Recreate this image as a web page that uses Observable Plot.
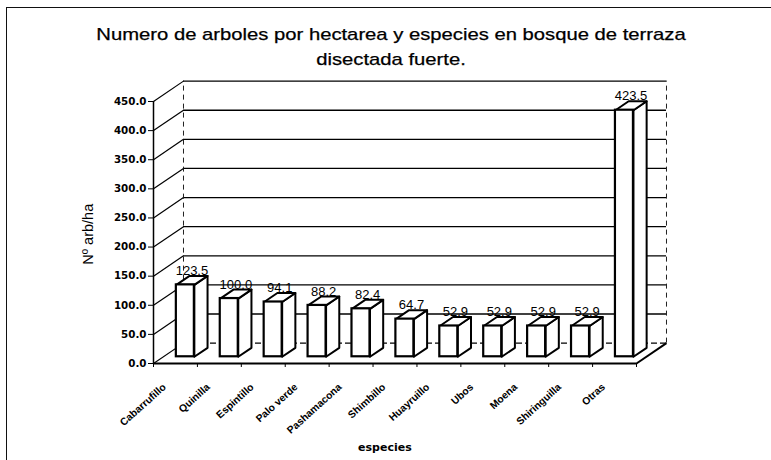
<!DOCTYPE html>
<html lang="es">
<head>
<meta charset="utf-8">
<script src="https://cdn.jsdelivr.net/npm/d3@7"></script>
<script src="https://cdn.jsdelivr.net/npm/@observablehq/plot@0.6"></script>
<style>
html,body{margin:0;padding:0;background:#fff;width:771px;height:460px;overflow:hidden}
#page{position:relative;width:771px;height:460px;box-sizing:border-box;font-family:"Liberation Sans",Arial,sans-serif}
#frame{position:absolute;left:6px;top:7px;right:0;bottom:0;border-left:1.5px solid #111;border-top:1.5px solid #111;pointer-events:none}
#title{position:absolute;left:0;top:22px;width:782px;text-align:center;font-size:17px;line-height:25px;color:#000;-webkit-text-stroke:.25px #000;transform:scaleX(1.19);transform-origin:391px 0}
#chart{position:absolute;left:0;top:70px}
svg{display:block;overflow:visible}
</style>
</head>
<body>
<div id="page">
<div id="frame"></div>
<div id="title">Numero de arboles por hectarea y especies en bosque de terraza<br>disectada fuerte.</div>
<div id="chart"></div>
</div>
<script>
const species = ["Cabarrufillo","Quinilla","Espintillo","Palo verde","Pashamacona","Shimbillo","Huayruillo","Ubos","Moena","Shiringuilla","Otras"];
const treesPerHa = [123.5,100.0,94.1,88.2,82.4,64.7,52.9,52.9,52.9,52.9,423.5];
const yTicks = [0,50,100,150,200,250,300,350,400,450];

// Oblique projection of the 3D chart, in scale units
const depthX = 0.683, depthY = 35;
const barStart = 0.33, barEnd = 0.77, halfBar = 0.205;

const bars = species.map((name,i)=>{
  const cx = i + 0.5, v = treesPerHa[i];
  const fx = cx + barStart*depthX, fy = barStart*depthY;
  const bx = (barEnd-barStart)*depthX, by = (barEnd-barStart)*depthY;
  return {name,i,v,x1:fx-halfBar,x2:fx+halfBar,y1:fy,y2:fy+v,bx,by};
});
const sideFaces = bars.flatMap(b=>[
  {k:b.i,x:b.x2,y:b.y1},{k:b.i,x:b.x2+b.bx,y:b.y1+b.by},{k:b.i,x:b.x2+b.bx,y:b.y2+b.by},{k:b.i,x:b.x2,y:b.y2},{k:b.i,x:b.x2,y:b.y1}
]);
const topFaces = bars.flatMap(b=>[
  {k:b.i,x:b.x1,y:b.y2},{k:b.i,x:b.x2,y:b.y2},{k:b.i,x:b.x2+b.bx,y:b.y2+b.by},{k:b.i,x:b.x1+b.bx,y:b.y2+b.by},{k:b.i,x:b.x1,y:b.y2}
]);
const catTicks = species.map((_,i)=>i+0.5);
const edgeTicks = d3.range(species.length+1);

const plot = Plot.plot({
  width:771, height:390,
  marginLeft:153, marginRight:135, marginTop:31, marginBottom:97,
  style:{background:"transparent",fontFamily:"'Liberation Sans',Arial,sans-serif",color:"#000",overflow:"visible"},
  x:{type:"linear",domain:[0,species.length]},
  y:{type:"linear",domain:[0,450]},
  marks:[
    // back wall
    Plot.ruleY(yTicks.filter(v=>v>0),{y:v=>v+depthY,x1:depthX,x2:species.length+depthX,stroke:"#000",strokeWidth:1.3}),
    Plot.ruleY([0],{y:depthY,x1:depthX,x2:species.length+depthX,stroke:"#000",strokeWidth:1.2,strokeDasharray:"6,3"}),
    Plot.ruleX([depthX,species.length+depthX],{y1:depthY,y2:450+depthY,stroke:"#222",strokeWidth:1,strokeDasharray:"5,4"}),
    // left wall
    Plot.link(yTicks,{x1:0,y1:v=>v,x2:depthX,y2:v=>v+depthY,stroke:"#000",strokeWidth:1.2}),
    // floor
    Plot.link([0],{x1:species.length,y1:0,x2:species.length+depthX,y2:depthY,stroke:"#000",strokeWidth:2}),
    // bars
    Plot.line(sideFaces,{x:"x",y:"y",z:"k",fill:"#fff",stroke:"#000",strokeWidth:2}),
    Plot.line(topFaces,{x:"x",y:"y",z:"k",fill:"#fff",stroke:"#000",strokeWidth:2}),
    Plot.rect(bars,{x1:"x1",x2:"x2",y1:"y1",y2:"y2",fill:"#fff",stroke:"#000",strokeWidth:2.2}),
    Plot.text(bars,{x:d=>d.x1+halfBar+0.15,y:"y2",dy:-14,text:d=>d.v.toFixed(1),fontSize:13,fill:"#000"}),
    // axes
    Plot.ruleX([0],{y1:0,y2:450,stroke:"#000",strokeWidth:1.5}),
    Plot.ruleY([0],{x1:0,x2:species.length,stroke:"#000",strokeWidth:2}),
    Plot.axisY(yTicks,{tickFormat:d=>d.toFixed(1),tickSize:5,tickPadding:2,fontSize:10.3,fontWeight:"bold",fontFamily:"'DejaVu Sans'",label:null,stroke:"#000"}),
    Plot.axisX(edgeTicks,{tickFormat:()=>"",tickSize:4,label:null,stroke:"#000"}),
    Plot.axisX(catTicks,{tickSize:0,tickFormat:d=>species[Math.floor(d)],tickRotate:-42,textAnchor:"end",dx:-11,dy:10,fontSize:10.3,fontWeight:"bold",label:null}),
    Plot.text(["Nº arb/ha"],{x:0,y:222,dx:-65,rotate:-90,fontSize:14.5}),
    Plot.text(["especies"],{x:5.27,y:0,dy:84,fontSize:11,fontWeight:"bold",fontFamily:"'DejaVu Sans'",style:"letter-spacing:1px"})
  ]
});
document.getElementById("chart").append(plot);
</script>
</body>
</html>
